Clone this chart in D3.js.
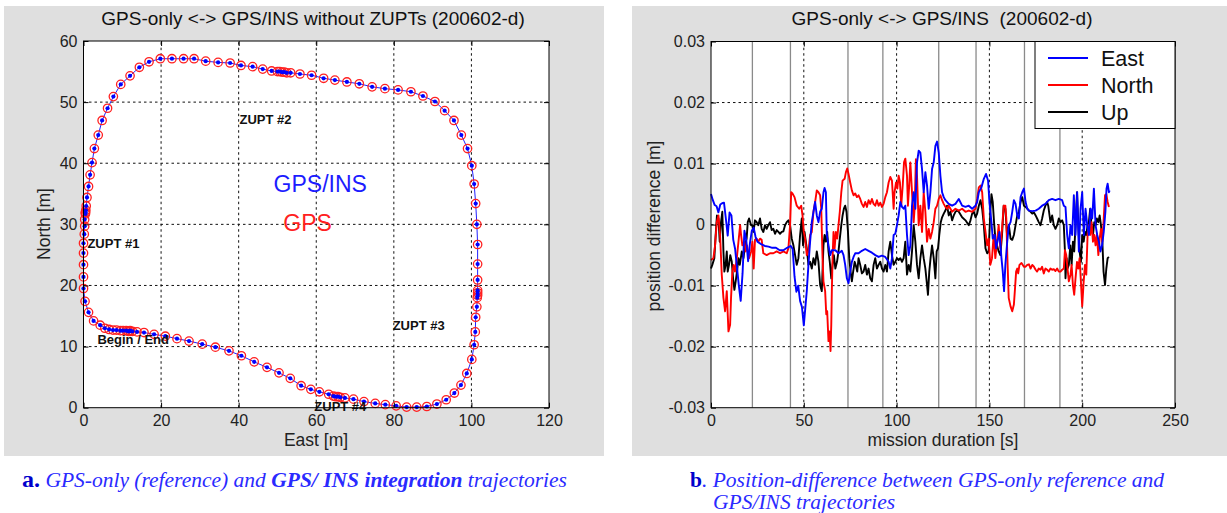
<!DOCTYPE html>
<html>
<head>
<meta charset="utf-8">
<script src="https://cdn.jsdelivr.net/npm/d3@7"></script>
<style>
body { margin: 0; background: #fff; }
</style>
</head>
<body>
<svg id="fig" width="1227" height="513" font-family="'Liberation Sans', Arial, Helvetica, sans-serif"></svg>
<script>
// ---- left panel: trajectory (East, North) in metres, Begin/End first ----
var trajEast = [12.0, 11.5, 11.0, 10.2, 9.5, 8.5, 7.6, 6.6, 5.5, 4.3, 2.6, 1.3, 0.4, 0.0, 0.0, 0.0, 0.0, 0.0, 0.2, 0.3, 0.3,
  0.5, 0.5, 0.6, 0.5, 0.7, 0.9, 1.3, 1.7, 2.2, 2.8, 3.8, 4.8, 6.2, 7.7, 9.6, 12.0, 14.4, 16.9, 19.8, 22.8, 25.8, 28.5,
  31.5, 34.7, 37.8, 40.6, 43.6, 46.2, 48.5, 50.0, 50.6, 51.2, 51.8, 52.4, 53.4, 55.8, 58.8, 61.9, 64.8, 67.9, 71.1,
  74.4, 77.7, 81.1, 84.4, 87.5, 90.6, 93.1, 95.5, 97.4, 99.0, 100.1, 100.7, 101.1, 101.4, 101.6, 101.6, 101.6, 101.6,
  101.6, 101.6, 101.5, 101.4, 101.1, 101.0, 100.7, 100.1, 98.8, 97.3, 95.6, 93.5, 91.1, 88.5, 85.9, 83.3, 80.6, 77.8,
  75.2, 72.3, 69.6, 67.4, 66.2, 65.6, 65.0, 64.4, 63.2, 60.8, 58.6, 56.1, 53.3, 50.4, 47.3, 44.0, 40.7, 37.5, 34.0,
  30.6, 27.2, 24.1, 21.1, 18.2, 15.6, 13.8, 12.6, 12.0];
var trajNorth = [12.5, 12.5, 12.6, 12.6, 12.6, 12.7, 12.7, 12.8, 13.0, 13.5, 14.2, 15.6, 17.4, 19.5, 21.4, 23.4, 25.3, 26.9,
  28.4, 29.7, 30.8, 31.7, 32.0, 32.3, 31.9, 33.0, 34.4, 36.2, 38.1, 40.1, 42.4, 44.6, 47.0, 49.0, 50.9, 52.9, 54.3,
  55.7, 56.6, 57.1, 57.1, 57.1, 57.1, 56.7, 56.5, 56.4, 56.0, 55.8, 55.4, 55.1, 55.0, 55.0, 54.9, 54.9, 54.8, 54.8,
  54.6, 54.4, 53.9, 53.6, 53.3, 53.0, 52.5, 52.2, 52.0, 51.7, 51.0, 50.1, 48.6, 47.0, 44.6, 42.4, 39.6, 36.6, 33.4,
  30.0, 26.7, 23.5, 20.9, 19.2, 18.8, 18.4, 18.0, 16.5, 14.8, 12.4, 10.3, 7.9, 5.6, 3.7, 2.4, 1.3, 0.6, 0.2, 0.1, 0.1,
  0.3, 0.5, 0.7, 1.0, 1.4, 1.6, 1.7, 1.8, 1.8, 1.9, 2.2, 2.6, 3.0, 3.6, 4.8, 5.7, 6.6, 7.5, 8.5, 9.3, 9.9, 10.4, 10.9,
  11.3, 11.7, 12.0, 12.3, 12.4, 12.5, 12.6];

var trajLabels = ["ZUPT #1", "ZUPT #2", "ZUPT #3", "ZUPT #4", "Begin / End"];
var trajLabelEast = [1.0, 40.2, 79.7, 59.5, 3.6];
var trajLabelNorth = [26.1, 46.4, 12.7, -0.6, 10.4];

var xTicksL = [0, 20, 40, 60, 80, 100, 120];
var yTicksL = [0, 10, 20, 30, 40, 50, 60];

// ---- right panel: position difference [m] vs mission time [s] ----
var east = [[0,0.0050],[1,0.0040],[2,0.0032],[3,0.0030],[4,0.0020],[5,0.0033],[6,0.0035],[7,0.0036],[8,0.0010],
  [9,-0.0018],[10,0.0020],[11,0.0015],[12,-0.0025],[13,-0.0040],[14,-0.0070],[15,-0.0100],[16,-0.0125],[17,-0.0080],
  [18,-0.0010],[19,-0.0025],[20,-0.0060],[21,-0.0030],[22,-0.0010],[23,-0.0005],[24,-0.0020],[25,-0.0028],[27,-0.0032],
  [29,-0.0035],[31,-0.0036],[33,-0.0038],[35,-0.0038],[37,-0.0042],[39,-0.0042],[41,-0.0038],[43,-0.0035],[44,-0.0040],
  [45,-0.0085],[46,-0.0110],[47,-0.0100],[48,-0.0125],[49,-0.0135],[50,-0.0165],[51.6,-0.0109],[52.5,-0.0066],
  [53.4,-0.0028],[54.3,0.0004],[55.2,0.0021],[56.1,0.0037],[57.0,0.0015],[57.9,0.0004],[58.8,0.0021],[59.7,0.0026],
  [60.6,0.0053],[61.2,0.0060],[61.9,0.0053],[62.4,-0.0017],[63.3,-0.0034],[64.2,-0.0050],[65.1,-0.0042],[67.0,-0.0042],
  [68.7,-0.0047],[70.5,-0.0043],[71.4,-0.0050],[72.3,-0.0066],[73.2,-0.0088],[74.1,-0.0096],[75.0,-0.0077],
  [75.9,-0.0061],[76.8,-0.0053],[77.7,-0.0047],[79.5,-0.0047],[81.3,-0.0043],[83.1,-0.0040],[84.9,-0.0043],
  [86.7,-0.0046],[88.5,-0.0050],[90.3,-0.0053],[92.1,-0.0051],[93.9,-0.0053],[95.7,-0.0061],[96.6,-0.0072],
  [97.5,-0.0055],[98.4,-0.0017],[99.3,-0.0015],[100.2,-0.0001],[101.1,0.0015],[102.0,0.0037],[102.9,0.0029],
  [103.8,0.0026],[104.7,0.0031],[105.6,-0.0017],[106.5,-0.0050],[107.4,-0.0034],[108.3,0.0031],[109.2,0.0053],
  [110.1,0.0026],[111.0,0.0102],[111.9,0.0121],[112.8,0.0118],[113.7,0.0091],[114.6,0.0053],[115.5,0.0086],
  [116.4,0.0064],[117.3,0.0026],[118.2,0.0053],[119.1,0.0091],[120.0,0.0102],[120.9,0.0129],[121.8,0.0136],
  [122.7,0.0118],[123.6,0.0080],[124.5,0.0053],[125.4,0.0045],[126.3,0.0040],[128.1,0.0034],[129.9,0.0031],
  [131.7,0.0034],[133.5,0.0042],[135.3,0.0031],[137.1,0.0029],[138.9,0.0031],[140.7,0.0026],[142.5,0.0031],
  [143.4,0.0037],[144.3,0.0053],[145.7,0.0061],[147.0,0.0075],[148.2,0.0083],[149.3,0.0072],[150.0,0.0037],
  [151.1,0.0004],[151.8,-0.0023],[152.9,-0.0017],[153.6,-0.0039],[154.7,-0.0023],[155.4,-0.0012],[156.5,-0.0055],
  [157.2,-0.0077],[157.9,-0.0109],[158.6,-0.0066],[159.6,-0.0028],[160.5,-0.0001],[161.4,0.0004],[162.3,0.0021],
  [163.2,0.0040],[164.1,0.0034],[165.0,0.0015],[165.9,0.0010],[166.8,0.0045],[167.7,0.0053],[168.6,0.0059],
  [169.5,0.0037],[170.4,0.0026],[171.3,0.0023],[173.1,0.0022],[174.9,0.0023],[176.6,0.0026],[178.4,0.0031],
  [180.2,0.0034],[182.0,0.0040],[183.8,0.0042],[185.6,0.0040],[187.4,0.0042],[189.2,0.0040],[190.1,0.0031],
  [191.0,0.0029],[191.9,-0.0017],[192.8,-0.0039],[193.7,-0.0001],[194.6,-0.0017],[195.5,0.0048],[196.4,-0.0017],
  [197.3,0.0053],[198.2,-0.0044],[199.1,0.0026],[200.0,0.0053],[200.9,-0.0017],[201.8,0.0026],[202.7,-0.0001],
  [203.6,-0.0017],[204.5,0.0026],[205.4,0.0010],[206.3,0.0059],[207.2,-0.0001],[208.1,-0.0017],[209.0,-0.0028],
  [209.8,-0.0044],[210.7,-0.0034],[211.6,-0.0012],[212.5,0.0021],[213.1,0.0059],[213.7,0.0067],[214.4,0.0053],
  [214.8,0.0056]];

var north = [[0,-0.0058],[1.3,-0.0055],[2.2,-0.0034],[3.1,0.0004],[4.0,0.0015],[4.9,-0.0017],[5.8,-0.0082],
  [6.7,-0.0120],[7.6,-0.0142],[8.5,-0.0109],[9.4,-0.0175],[10.3,-0.0164],[10.8,-0.0120],[11.5,-0.0077],
  [12.2,-0.0066],[12.9,-0.0077],[13.9,-0.0055],[14.8,-0.0028],[15.7,-0.0001],[16.2,-0.0017],[16.9,-0.0034],
  [18.0,-0.0028],[18.7,-0.0044],[19.4,-0.0034],[20.5,-0.0055],[21.6,-0.0044],[22.3,-0.0028],[23.0,-0.0072],
  [23.7,-0.0025],[24.6,-0.0023],[25.5,-0.0028],[26.4,-0.0023],[27.3,-0.0025],[28.2,-0.0047],[30.0,-0.0050],
  [31.8,-0.0047],[33.6,-0.0047],[35.4,-0.0044],[37.2,-0.0047],[39.0,-0.0044],[40.8,-0.0047],[41.7,-0.0039],
  [42.6,-0.0001],[43.2,0.0053],[43.9,0.0051],[45.0,0.0045],[46.2,0.0031],[47.5,0.0026],[48.6,0.0031],[49.3,0.0015],
  [50.0,-0.0012],[50.7,-0.0023],[51.6,-0.0050],[52.5,-0.0044],[53.4,-0.0017],[54.3,-0.0012],[55.2,0.0021],
  [56.1,0.0037],[57.0,0.0056],[57.9,0.0053],[58.8,0.0048],[59.4,0.0026],[60.1,-0.0055],[60.6,-0.0093],
  [61.5,-0.0109],[62.1,-0.0147],[62.6,-0.0142],[63.3,-0.0191],[63.9,-0.0175],[64.4,-0.0207],[64.8,-0.0164],
  [65.1,-0.0109],[65.5,-0.0055],[66.0,-0.0012],[66.6,-0.0039],[67.3,-0.0012],[68.0,-0.0023],[68.7,-0.0001],
  [69.4,0.0021],[70.2,0.0053],[70.9,0.0072],[72.0,0.0075],[72.7,0.0086],[73.4,0.0092],[74.1,0.0083],[75.0,0.0069],
  [75.9,0.0056],[76.8,0.0048],[77.7,0.0051],[78.6,0.0045],[79.5,0.0048],[80.4,0.0042],[81.3,0.0034],[82.2,0.0029],
  [83.1,0.0037],[84.0,0.0029],[84.9,0.0040],[85.8,0.0034],[86.7,0.0042],[87.6,0.0034],[88.5,0.0031],[89.4,0.0040],
  [90.3,0.0031],[91.2,0.0036],[92.1,0.0029],[93.0,0.0034],[93.9,0.0045],[94.8,0.0053],[95.7,0.0069],[96.6,0.0078],
  [97.5,0.0072],[98.4,0.0026],[98.9,0.0053],[99.7,0.0069],[100.4,0.0059],[101.1,0.0080],[101.8,0.0069],
  [102.5,0.0031],[103.3,0.0064],[104.0,0.0102],[104.7,0.0108],[105.6,0.0080],[106.1,0.0031],[106.8,0.0064],
  [107.4,0.0102],[108.3,0.0053],[109.2,0.0004],[109.7,0.0026],[110.4,0.0107],[111.0,0.0080],[111.9,-0.0001],
  [112.8,0.0031],[113.7,-0.0012],[114.6,0.0053],[115.5,0.0021],[116.4,-0.0028],[117.3,-0.0007],[118.2,-0.0023],
  [119.1,-0.0012],[120.0,0.0004],[120.9,0.0026],[121.8,0.0031],[122.7,0.0042],[123.6,0.0048],[124.5,0.0040],
  [125.4,0.0034],[126.3,0.0029],[127.2,0.0026],[128.1,0.0031],[129.9,0.0021],[131.7,0.0026],[133.5,0.0023],
  [135.3,0.0026],[137.1,0.0021],[138.9,0.0023],[140.7,0.0021],[142.5,0.0026],[143.4,0.0042],[144.3,0.0061],
  [145.2,0.0064],[146.1,0.0053],[147.0,0.0010],[147.9,-0.0012],[148.8,-0.0034],[149.6,-0.0023],[150.5,-0.0066],
  [151.4,-0.0055],[152.3,-0.0017],[153.2,-0.0055],[154.1,-0.0028],[155.0,-0.0001],[155.9,-0.0039],[156.8,-0.0007],
  [157.7,0.0031],[158.6,0.0031],[159.1,0.0010],[159.7,-0.0055],[160.4,-0.0120],[161.4,-0.0134],[162.3,-0.0142],
  [163.2,-0.0131],[163.7,-0.0109],[164.4,-0.0077],[165.0,-0.0072],[165.5,-0.0080],[166.2,-0.0066],[167.3,-0.0063],
  [168.6,-0.0069],[169.5,-0.0069],[170.4,-0.0066],[171.3,-0.0065],[172.2,-0.0072],[173.1,-0.0066],[174.0,-0.0069],
  [174.9,-0.0074],[175.7,-0.0077],[176.6,-0.0072],[177.5,-0.0074],[178.4,-0.0069],[179.3,-0.0080],[180.2,-0.0072],
  [181.1,-0.0074],[182.0,-0.0077],[182.9,-0.0072],[183.8,-0.0074],[184.7,-0.0073],[185.6,-0.0076],[186.5,-0.0072],
  [187.4,-0.0077],[188.3,-0.0077],[189.2,-0.0074],[190.1,-0.0072],[190.7,-0.0042],[191.4,-0.0050],[192.1,-0.0072],
  [192.8,-0.0093],[193.7,-0.0082],[194.3,-0.0066],[195.0,-0.0099],[195.7,-0.0115],[196.4,-0.0088],[197.2,-0.0061],
  [197.9,-0.0072],[198.6,-0.0055],[199.3,-0.0093],[200.0,-0.0134],[200.8,-0.0093],[201.5,-0.0066],[202.2,-0.0082],
  [202.9,-0.0017],[203.6,-0.0001],[204.3,-0.0017],[205.0,0.0004],[205.8,-0.0028],[206.5,-0.0017],[207.2,-0.0034],
  [207.9,-0.0017],[208.7,-0.0050],[209.4,-0.0023],[210.1,-0.0007],[210.8,-0.0028],[211.5,0.0004],[212.3,0.0048],
  [213.0,0.0050],[213.7,0.0037],[214.4,0.0029]];

var up = [[0,-0.0072],[0.7,-0.0066],[1.8,-0.0055],[2.5,-0.0017],[3.2,0.0015],[4.0,0.0010],[4.7,-0.0028],[5.4,0.0004],
  [6.1,0.0021],[6.7,-0.0044],[7.2,-0.0077],[7.9,-0.0066],[8.5,-0.0044],[9.0,-0.0077],[9.7,-0.0066],[10.4,-0.0050],
  [11.2,-0.0061],[11.9,-0.0088],[12.6,-0.0107],[13.3,-0.0093],[14.0,-0.0077],[14.8,-0.0055],[15.5,-0.0066],
  [16.6,-0.0044],[17.5,-0.0055],[18.3,-0.0034],[19.2,-0.0023],[19.8,0.0004],[20.5,0.0010],[21.6,-0.0001],
  [22.3,-0.0001],[22.9,-0.0012],[23.7,0.0007],[24.6,0.0004],[25.5,-0.0001],[26.4,0.0010],[27.3,-0.0007],
  [28.2,-0.0012],[29.1,-0.0001],[30.0,-0.0007],[30.9,-0.0001],[31.8,0.0004],[32.7,-0.0009],[33.6,-0.0007],
  [34.5,-0.0015],[35.4,-0.0009],[36.3,-0.0012],[37.2,-0.0015],[38.1,-0.0012],[39.0,-0.0011],[39.9,-0.0001],
  [40.8,0.0004],[41.7,0.0007],[42.6,-0.0001],[43.5,-0.0023],[44.4,-0.0034],[45.3,-0.0050],[46.2,-0.0066],
  [47.1,-0.0055],[48.0,-0.0017],[48.9,0.0010],[49.6,-0.0034],[50.4,-0.0012],[51.1,-0.0028],[51.6,-0.0039],
  [52.5,-0.0066],[53.4,-0.0061],[54.3,-0.0072],[55.2,-0.0055],[56.1,-0.0066],[57.0,-0.0044],[57.9,-0.0061],
  [58.8,-0.0099],[59.7,-0.0109],[60.6,-0.0034],[61.2,-0.0017],[61.9,-0.0028],[62.6,-0.0012],[63.3,-0.0044],
  [64.0,-0.0061],[64.8,-0.0088],[65.5,-0.0066],[66.2,-0.0050],[67.0,-0.0072],[67.9,-0.0061],[68.7,-0.0044],
  [69.4,-0.0023],[70.2,-0.0001],[70.9,0.0015],[71.6,0.0026],[72.3,0.0031],[73.0,0.0021],[73.8,-0.0012],
  [74.5,-0.0055],[75.2,-0.0077],[75.9,-0.0093],[76.6,-0.0077],[77.4,-0.0061],[78.1,-0.0068],[78.8,-0.0077],
  [79.5,-0.0055],[80.4,-0.0066],[81.3,-0.0080],[82.2,-0.0077],[83.1,-0.0066],[84.0,-0.0082],[84.9,-0.0072],
  [85.8,-0.0088],[86.7,-0.0093],[87.6,-0.0066],[88.5,-0.0055],[89.4,-0.0072],[90.3,-0.0066],[91.2,-0.0061],
  [92.1,-0.0072],[93.0,-0.0077],[93.9,-0.0066],[94.8,-0.0077],[95.7,-0.0044],[96.6,-0.0028],[97.5,-0.0050],
  [98.4,-0.0066],[99.3,-0.0061],[100.2,-0.0055],[101.1,-0.0058],[102.0,-0.0055],[102.9,-0.0061],[103.8,-0.0055],
  [104.7,-0.0028],[105.6,-0.0082],[106.5,-0.0066],[107.4,-0.0077],[108.3,-0.0044],[109.2,-0.0001],[110.1,-0.0028],
  [111.0,-0.0066],[111.9,-0.0088],[112.8,-0.0055],[113.7,-0.0034],[114.6,-0.0055],[115.5,-0.0072],[116.4,-0.0099],
  [116.9,-0.0115],[117.6,-0.0077],[118.3,-0.0055],[119.1,-0.0034],[120.0,-0.0055],[120.9,-0.0088],[121.6,-0.0044],
  [122.3,-0.0039],[123.0,-0.0017],[123.8,0.0004],[124.5,0.0012],[125.4,0.0018],[126.3,0.0023],[127.2,0.0031],
  [128.1,0.0015],[129.0,0.0021],[129.9,0.0007],[130.8,0.0015],[131.7,0.0021],[132.6,0.0023],[133.5,0.0021],
  [135.3,0.0012],[137.1,0.0007],[138.9,-0.0001],[139.8,0.0007],[140.7,0.0018],[141.6,0.0021],[142.5,0.0012],
  [143.4,0.0018],[144.3,0.0031],[145.2,0.0040],[146.1,0.0026],[147.0,-0.0001],[147.9,-0.0039],[148.8,-0.0047],
  [149.6,-0.0044],[150.5,0.0021],[151.1,0.0050],[151.8,0.0037],[152.5,0.0004],[153.2,-0.0023],[154.1,-0.0034],
  [155.0,-0.0044],[155.9,-0.0050],[156.8,-0.0017],[157.7,0.0031],[158.6,0.0026],[159.5,-0.0017],[160.5,-0.0001],
  [161.4,-0.0023],[162.3,-0.0025],[163.2,-0.0017],[164.1,-0.0001],[165.0,0.0015],[165.9,0.0021],[166.8,0.0037],
  [167.7,0.0045],[168.6,0.0031],[169.5,0.0029],[170.4,0.0026],[171.3,0.0023],[172.2,0.0021],[173.1,0.0018],
  [174.0,0.0020],[174.9,0.0015],[175.7,0.0010],[176.6,0.0004],[177.5,-0.0001],[178.4,0.0010],[179.3,0.0023],
  [180.2,0.0031],[181.1,0.0037],[181.7,0.0031],[182.4,0.0015],[182.9,0.0004],[183.8,0.0015],[184.7,-0.0001],
  [185.6,-0.0007],[186.5,-0.0001],[187.4,0.0010],[188.3,0.0004],[189.2,0.0007],[190.1,-0.0001],[190.7,-0.0044],
  [191.0,-0.0088],[191.6,-0.0055],[192.1,-0.0072],[192.8,-0.0066],[193.6,-0.0034],[194.3,-0.0066],[195.0,-0.0028],
  [195.7,-0.0044],[196.4,-0.0001],[197.2,0.0053],[197.9,-0.0001],[198.6,-0.0044],[199.3,-0.0061],[200.0,-0.0017],
  [200.8,-0.0028],[201.5,-0.0012],[202.2,-0.0017],[202.9,-0.0001],[203.6,0.0004],[204.3,0.0026],[205.0,-0.0001],
  [205.8,-0.0017],[206.5,0.0004],[207.2,-0.0001],[207.9,0.0010],[208.7,0.0004],[209.4,0.0015],[210.1,-0.0001],
  [210.8,-0.0023],[211.5,-0.0077],[212.3,-0.0099],[213.0,-0.0072],[213.7,-0.0055],[214.4,-0.0053]];

var seriesNames = ["East", "North", "Up"];
var seriesColors = ["#0000ff", "#ff0000", "#000000"];
// ZUPT interval boundaries [s]
var zuptTimes = [22.3, 42.8, 73.8, 92.6, 122.7, 142.8, 168.9, 188.0];

var xTicksR = [0, 50, 100, 150, 200, 250];
var yTicksR = [-0.03, -0.02, -0.01, 0, 0.01, 0.02, 0.03];

var svg = d3.select("#fig");
var font = "'Liberation Sans', Arial, Helvetica, sans-serif";
var serif = "'Liberation Serif', 'Times New Roman', serif";

// grey figure backgrounds
svg.append("rect").attr("x", 4).attr("y", 6).attr("width", 600).attr("height", 450).attr("fill", "#dfdfdf");
svg.append("rect").attr("x", 632).attr("y", 6).attr("width", 595).attr("height", 450).attr("fill", "#dfdfdf");

// scales
var xL = d3.scaleLinear().domain([0, 120]).range([83.5, 549]);
var yL = d3.scaleLinear().domain([0, 60]).range([407.7, 41]);
var xR = d3.scaleLinear().domain([0, 250]).range([711, 1175]);
var yR = d3.scaleLinear().domain([-0.03, 0.03]).range([407.7, 41.5]);

function fmtR(d) { return d === 0 ? "0" : String(+d.toFixed(2)); }

function axesBase(x, y, xt, yt) {
  var x0 = x.range()[0], x1 = x.range()[1], y0 = y.range()[0], y1 = y.range()[1];
  var g = svg.append("g");
  g.append("rect").attr("x", x0).attr("y", y1).attr("width", x1 - x0).attr("height", y0 - y1).attr("fill", "#fff");
  g.selectAll(".gx").data(xt.slice(1, -1)).enter().append("line")
    .attr("x1", function (d) { return x(d); }).attr("x2", function (d) { return x(d); })
    .attr("y1", y0).attr("y2", y1)
    .attr("stroke", "#111").attr("stroke-width", 1).attr("stroke-dasharray", "2.5,3");
  g.selectAll(".gy").data(yt.slice(1, -1)).enter().append("line")
    .attr("y1", function (d) { return y(d); }).attr("y2", function (d) { return y(d); })
    .attr("x1", x0).attr("x2", x1)
    .attr("stroke", "#111").attr("stroke-width", 1).attr("stroke-dasharray", "2.5,3");
  return g;
}

function axesFrame(x, y, xt, yt, fy) {
  var x0 = x.range()[0], x1 = x.range()[1], y0 = y.range()[0], y1 = y.range()[1];
  var g = svg.append("g");
  var ax;
  ax = g.append("g").attr("transform", "translate(0," + y0 + ")")
    .call(d3.axisBottom(x).tickValues(xt).tickSize(-5).tickPadding(7));
  ax.attr("font-size", 16).attr("font-family", font);
  ax.select(".domain").remove();
  ax = g.append("g").attr("transform", "translate(" + x0 + ",0)")
    .call(d3.axisLeft(y).tickValues(yt).tickSize(-5).tickPadding(6).tickFormat(fy));
  ax.attr("font-size", 16).attr("font-family", font);
  ax.select(".domain").remove();
  ax = g.append("g").attr("transform", "translate(0," + y1 + ")")
    .call(d3.axisTop(x).tickValues(xt).tickSize(-5).tickFormat(""));
  ax.select(".domain").remove();
  ax = g.append("g").attr("transform", "translate(" + x1 + ",0)")
    .call(d3.axisRight(y).tickValues(yt).tickSize(-5).tickFormat(""));
  ax.select(".domain").remove();
  g.selectAll(".tick text").attr("fill", "#222");
  g.append("rect").attr("x", x0).attr("y", y1).attr("width", x1 - x0).attr("height", y0 - y1)
    .attr("fill", "none").attr("stroke", "#000").attr("stroke-width", 1);
}

// ---------------- left plot ----------------
axesBase(xL, yL, xTicksL, yTicksL);
var traj = trajEast.map(function (e, i) { return [e, trajNorth[i]]; });
svg.append("path").datum(traj)
  .attr("d", d3.line().x(function (d) { return xL(d[0]); }).y(function (d) { return yL(d[1]); }))
  .attr("fill", "none").attr("stroke", "#2020ff").attr("stroke-width", 1);
svg.append("g").selectAll("circle").data(traj).enter().append("circle")
  .attr("cx", function (d) { return xL(d[0]); }).attr("cy", function (d) { return yL(d[1]); })
  .attr("r", 4.2).attr("fill", "none").attr("stroke", "#ff2020").attr("stroke-width", 1.3);
svg.append("g").selectAll("circle").data(traj).enter().append("circle")
  .attr("cx", function (d) { return xL(d[0]); }).attr("cy", function (d) { return yL(d[1]); })
  .attr("r", 2.1).attr("fill", "#0000ff");
svg.append("g").selectAll("text").data(trajLabels).enter().append("text")
  .attr("x", function (d, i) { return xL(trajLabelEast[i]); })
  .attr("y", function (d, i) { return yL(trajLabelNorth[i]); })
  .attr("font-size", 13).attr("font-weight", "bold").attr("fill", "#111")
  .text(function (d) { return d; });
svg.append("text").attr("x", xL(49.0)).attr("y", yL(35.3)).attr("font-size", 23)
  .attr("fill", "#1c1cff").text("GPS/INS");
svg.append("text").attr("x", xL(51.5)).attr("y", yL(28.9)).attr("font-size", 23)
  .attr("fill", "#ff2020").text("GPS");
axesFrame(xL, yL, xTicksL, yTicksL, function (d) { return d; });

svg.append("text").attr("x", 313).attr("y", 25).attr("text-anchor", "middle").attr("font-size", 19)
  .attr("fill", "#111").text("GPS-only <-> GPS/INS without ZUPTs (200602-d)");
svg.append("text").attr("x", 316).attr("y", 446).attr("text-anchor", "middle").attr("font-size", 17.5)
  .attr("fill", "#222").text("East [m]");
svg.append("text").attr("transform", "translate(50,224) rotate(-90)").attr("text-anchor", "middle")
  .attr("font-size", 17.5).attr("fill", "#222").text("North [m]");

// ---------------- right plot ----------------
var gR = axesBase(xR, yR, xTicksR, yTicksR);
gR.selectAll(".zupt").data(zuptTimes).enter().append("line")
  .attr("x1", function (d) { return xR(d); }).attr("x2", function (d) { return xR(d); })
  .attr("y1", yR(-0.03)).attr("y2", yR(0.03))
  .attr("stroke", "#8a8a8a").attr("stroke-width", 1.3);

var lineR = d3.line().x(function (d) { return xR(d[0]); }).y(function (d) { return yR(d[1]); });
var seriesData = [east, north, up];
// draw Up first so East stays on top
[2, 1, 0].forEach(function (k) {
  svg.append("path").datum(seriesData[k]).attr("d", lineR)
    .attr("fill", "none").attr("stroke", seriesColors[k]).attr("stroke-width", 1.9)
    .attr("stroke-linejoin", "round");
});
axesFrame(xR, yR, xTicksR, yTicksR, fmtR);

// legend
var lg = svg.append("g");
lg.append("rect").attr("x", 1035).attr("y", 41.5).attr("width", 140).attr("height", 87)
  .attr("fill", "#fff").attr("stroke", "#000").attr("stroke-width", 1);
seriesNames.forEach(function (n, i) {
  var yy = 58 + i * 27;
  lg.append("line").attr("x1", 1048).attr("x2", 1088).attr("y1", yy).attr("y2", yy)
    .attr("stroke", seriesColors[i]).attr("stroke-width", 2);
  lg.append("text").attr("x", 1101).attr("y", yy + 7.5).attr("font-size", 21.5).attr("fill", "#111").text(n);
});

svg.append("text").attr("x", 942).attr("y", 25).attr("text-anchor", "middle").attr("font-size", 19)
  .attr("fill", "#111").style("white-space", "pre").text("GPS-only <-> GPS/INS  (200602-d)");
svg.append("text").attr("x", 943).attr("y", 446).attr("text-anchor", "middle").attr("font-size", 17.5)
  .attr("fill", "#222").text("mission duration [s]");
svg.append("text").attr("transform", "translate(660,226) rotate(-90)").attr("text-anchor", "middle")
  .attr("font-size", 17.5).attr("fill", "#222").text("position difference [m]");

// ---------------- captions ----------------
var capA = svg.append("text").attr("x", 22).attr("y", 487).attr("font-family", serif).attr("font-size", 21.5)
  .attr("fill", "#2a2aff");
capA.append("tspan").attr("font-weight", "bold").attr("font-size", 24).attr("fill", "#0000cc").text("a.");
capA.append("tspan").attr("font-style", "italic").text(" GPS-only (reference) and ");
capA.append("tspan").attr("font-style", "italic").attr("font-weight", "bold").text("GPS/ INS integration");
capA.append("tspan").attr("font-style", "italic").text(" trajectories");

var capB = svg.append("text").attr("x", 690).attr("y", 487).attr("font-family", serif).attr("font-size", 21.5)
  .attr("fill", "#2a2aff");
capB.append("tspan").attr("font-weight", "bold").attr("fill", "#0000cc").text("b");
capB.append("tspan").attr("font-style", "italic").text(". Position-difference between GPS-only reference and");
svg.append("text").attr("x", 713).attr("y", 509).attr("font-family", serif).attr("font-size", 21.5)
  .attr("font-style", "italic").attr("fill", "#2a2aff").text("GPS/INS trajectories");
</script>
</body>
</html>
